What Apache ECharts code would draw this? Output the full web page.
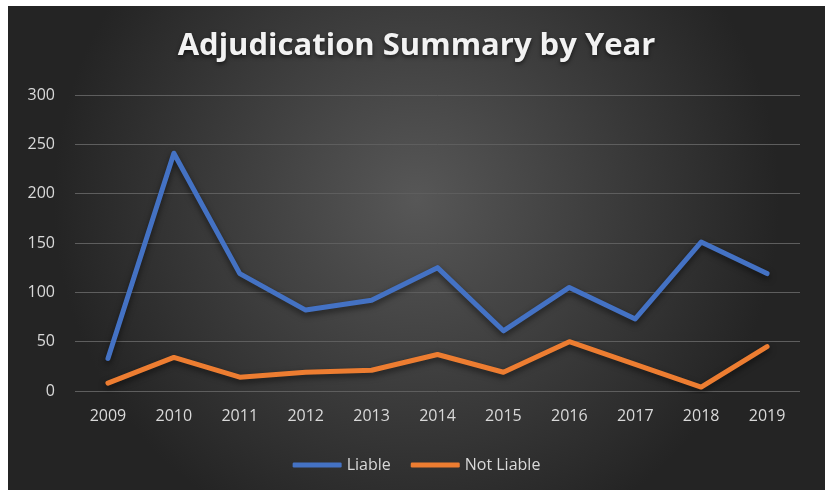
<!DOCTYPE html>
<html>
<head>
<meta charset="utf-8">
<script src="https://cdn.jsdelivr.net/npm/echarts@6/dist/echarts.min.js"></script>
<style>
html,body{margin:0;padding:0;background:#fff;}
#c{position:absolute;left:8px;top:6px;width:817px;height:484px;}
</style>
</head>
<body>
<div id="c"></div>
<script>
const years = ['2009','2010','2011','2012','2013','2014','2015','2016','2017','2018','2019'];
const liable = [33, 241, 119, 82, 92, 125, 61, 105, 73, 151, 119];
const notLiable = [8, 34, 14, 19, 21, 37, 19, 50, 27, 4, 45];
const yTicks = [0, 50, 100, 150, 200, 250, 300];

const chart = echarts.init(document.getElementById('c'));
const shadow = {shadowBlur: 6, shadowColor: 'rgba(0,0,0,0.55)', shadowOffsetY: 3};
chart.setOption({
  backgroundColor: {
    type: 'radial', x: 0.5, y: 0.4, r: 0.75,
    colorStops: [{offset: 0, color: '#575757'}, {offset: 1, color: '#242424'}]
  },
  title: {
    text: 'Adjudication Summary by Year',
    left: 'center', top: 20,
    textStyle: {
      color: '#f2f2f2', fontFamily: 'Open Sans', fontWeight: 'bold', fontSize: 31,
      textShadowColor: 'rgba(0,0,0,0.6)', textShadowBlur: 4, textShadowOffsetY: 2
    }
  },
  legend: {
    data: ['Liable', 'Not Liable'],
    bottom: 12, left: 'center',
    icon: 'roundRect', itemWidth: 49, itemHeight: 5, itemGap: 20,
    textStyle: {color: '#d9d9d9', fontSize: 16, fontFamily: 'Open Sans'}
  },
  grid: {left: 67, right: 25, top: 89, bottom: 99},
  xAxis: {
    type: 'category', data: years, boundaryGap: true,
    axisLine: {show: false}, axisTick: {show: false},
    axisLabel: {color: '#d9d9d9', fontSize: 16, fontFamily: 'Open Sans', margin: 17}
  },
  yAxis: {
    type: 'value', min: yTicks[0], max: yTicks[yTicks.length - 1], interval: 50,
    axisLine: {show: false}, axisTick: {show: false},
    axisLabel: {color: '#d9d9d9', fontSize: 16, fontFamily: 'Open Sans', margin: 20},
    splitLine: {lineStyle: {color: '#5e5e5e', width: 1}}
  },
  series: [
    {name: 'Liable', type: 'line', data: liable, showSymbol: false, symbol: 'none',
     lineStyle: Object.assign({color: '#4472C4', width: 5, cap: 'round', join: 'round'}, shadow),
     itemStyle: {color: '#4472C4'}},
    {name: 'Not Liable', type: 'line', data: notLiable, showSymbol: false, symbol: 'none',
     lineStyle: Object.assign({color: '#ED7D31', width: 5, cap: 'round', join: 'round'}, shadow),
     itemStyle: {color: '#ED7D31'}}
  ]
});
</script>
</body>
</html>
